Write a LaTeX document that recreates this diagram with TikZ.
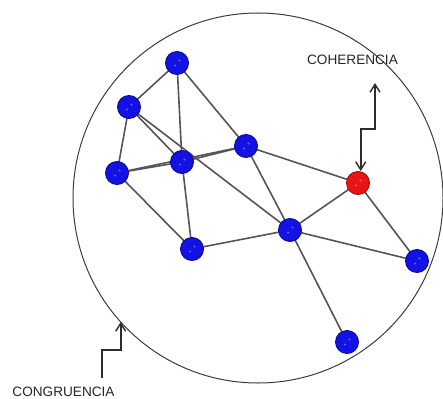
\documentclass[tikz,border=0pt]{standalone}
\usepackage{fontspec}
\setmainfont{Liberation Sans}
\usetikzlibrary{arrows.meta}
\definecolor{nodeblue}{RGB}{18,18,228}
\definecolor{nodeblueedge}{RGB}{10,10,150}
\definecolor{nodered}{RGB}{235,20,20}
\definecolor{noderededge}{RGB}{160,10,10}
\definecolor{edgegray}{RGB}{85,85,85}
\definecolor{ringgray}{RGB}{60,60,60}
\definecolor{arrowgray}{RGB}{45,45,45}
\begin{document}
\begin{tikzpicture}[x=1pt,y=-1pt,
  barb/.tip={Straight Barb[length=8pt,width=10pt,line width=1.4pt]},
  vertex/.style={circle,minimum size=23pt,inner sep=0pt,fill=nodeblue,draw=nodeblueedge,line width=0.9pt},
  hot/.style={vertex,fill=nodered,draw=noderededge},
  speck/.style={fill=white,fill opacity=0.35},
  link/.style={draw=edgegray,line width=1.6pt},
  pointer/.style={draw=arrowgray,line width=1.7pt},
  caption/.style={font=\fontsize{13.6}{15}\selectfont,inner sep=0pt,text=black!85}]
\useasboundingbox (0,0) rectangle (443,398);
\fill[white] (0,0) rectangle (443,398);

% enclosing ring
\draw[ringgray,line width=1pt] (258,198) circle[radius=185];

% vertex positions
\coordinate (p1) at (177,63);
\coordinate (p2) at (129,107);
\coordinate (p3) at (117,173);
\coordinate (p4) at (182,162);
\coordinate (p5) at (246,146);
\coordinate (p6) at (192,249);
\coordinate (p7) at (290,230);
\coordinate (p8) at (358,183);
\coordinate (p9) at (417,261);
\coordinate (p10) at (347,342);

% edges drawn first so the vertices cover their ends
\foreach \a/\b in {p1/p2,p1/p4,p1/p5,p2/p3,p2/p4,p2/p7,p3/p4,p3/p5,p4/p5,
                   p3/p6,p4/p6,p5/p7,p5/p8,p6/p7,p7/p8,p7/p9,p8/p9,p7/p10}
  \draw[link] (\a) -- (\b);

% vertices, each with two faint specks
\foreach \p in {1,2,3,4,5,6,7,9,10}
  \node[vertex] (n\p) at (p\p) {};
\node[hot] (n8) at (p8) {};
\foreach \p in {1,...,10} {
  \fill[speck] ([shift={(2.5,-2.5)}]p\p) circle[radius=1.2];
  \fill[speck] ([shift={(-2,2.5)}]p\p) circle[radius=1.2];
}

% labels
\node[caption] (coh) at (352.5,60) {COHERENCIA};
\node[caption] (con) at (63.5,392) {CONGRUENCIA};

% label pointers
\coordinate (cohTop) at (375,83);
\coordinate (conTop) at (120.7,322);
\coordinate (conFoot) at (101.7,378);
\draw[pointer,barb-barb]
  (cohTop) -- (375,129.3) -- (360.7,129.3) -- (n8.north -| 360.7,0);
\draw[pointer,-barb]
  (conFoot) -- (101.7,350) -- (120.7,350) -- (conTop);
\end{tikzpicture}
\end{document}
